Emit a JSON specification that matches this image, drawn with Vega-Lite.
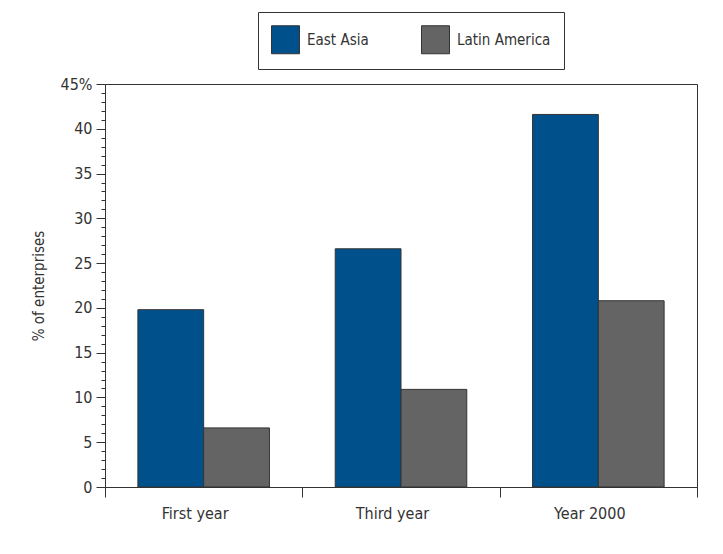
{
  "$schema": "https://vega.github.io/schema/vega-lite/v6.json",
  "autosize": {"type": "none"},
  "padding": {"left": 105, "top": 84, "right": 26, "bottom": 67},
  "width": 592,
  "height": 403,
  "background": "white",
  "config": {
    "view": {"stroke": "#333333", "strokeWidth": 1},
    "font": "DejaVu Sans Condensed, Liberation Sans, sans-serif"
  },
  "data": {
    "values": [
      {"period": "First year", "region": "East Asia", "value": 19.8},
      {"period": "First year", "region": "Latin America", "value": 6.6},
      {"period": "Third year", "region": "East Asia", "value": 26.6},
      {"period": "Third year", "region": "Latin America", "value": 10.9},
      {"period": "Year 2000", "region": "East Asia", "value": 41.6},
      {"period": "Year 2000", "region": "Latin America", "value": 20.8}
    ]
  },
  "mark": {"type": "bar", "stroke": "#333333", "strokeWidth": 1},
  "encoding": {
    "x": {
      "field": "period",
      "type": "nominal",
      "sort": ["First year", "Third year", "Year 2000"],
      "scale": {"paddingInner": 0, "paddingOuter": 0},
      "axis": {
        "title": null,
        "labelAngle": 0,
        "tickBand": "extent",
        "tickSize": 10,
        "tickColor": "#333333",
        "domainColor": "#333333",
        "labelFontSize": 16,
        "labelColor": "#333333",
        "labelPadding": 8,
        "labelOffset": -9
      }
    },
    "xOffset": {
      "field": "region",
      "type": "nominal",
      "sort": ["East Asia", "Latin America"],
      "scale": {"paddingInner": 0, "paddingOuter": 0.5}
    },
    "y": {
      "field": "value",
      "type": "quantitative",
      "scale": {"domain": [0, 45], "nice": false},
      "axis": {
        "title": "% of enterprises",
        "titleFontSize": 15,
        "titleFontWeight": "normal",
        "titleColor": "#333333",
        "titlePadding": 14,
        "values": [0,1,2,3,4,5,6,7,8,9,10,11,12,13,14,15,16,17,18,19,20,21,22,23,24,25,26,27,28,29,30,31,32,33,34,35,36,37,38,39,40,41,42,43,44,45],
        "labelExpr": "datum.value === 45 ? '45%' : (datum.value % 5 === 0 ? datum.label : '')",
        "labelOverlap": false,
        "labelFontSize": 16,
        "labelColor": "#333333",
        "labelPadding": 4,
        "tickSize": {"condition": {"test": "datum.value % 5 === 0", "value": 9}, "value": 4},
        "tickColor": "#333333",
        "domainColor": "#333333",
        "grid": false
      }
    },
    "color": {
      "field": "region",
      "type": "nominal",
      "sort": ["East Asia", "Latin America"],
      "scale": {"range": ["#00508C", "#646464"]},
      "legend": {
        "title": null,
        "orient": "none",
        "legendX": 153,
        "legendY": -72,
        "direction": "horizontal",
        "strokeColor": "#333333",
        "padding": 13,
        "symbolType": "square",
        "symbolSize": 784,
        "symbolStrokeColor": "#333333",
        "symbolStrokeWidth": 1,
        "labelFontSize": 15,
        "labelColor": "#333333",
        "labelOffset": 7,
        "columnPadding": 50
      }
    }
  }
}
